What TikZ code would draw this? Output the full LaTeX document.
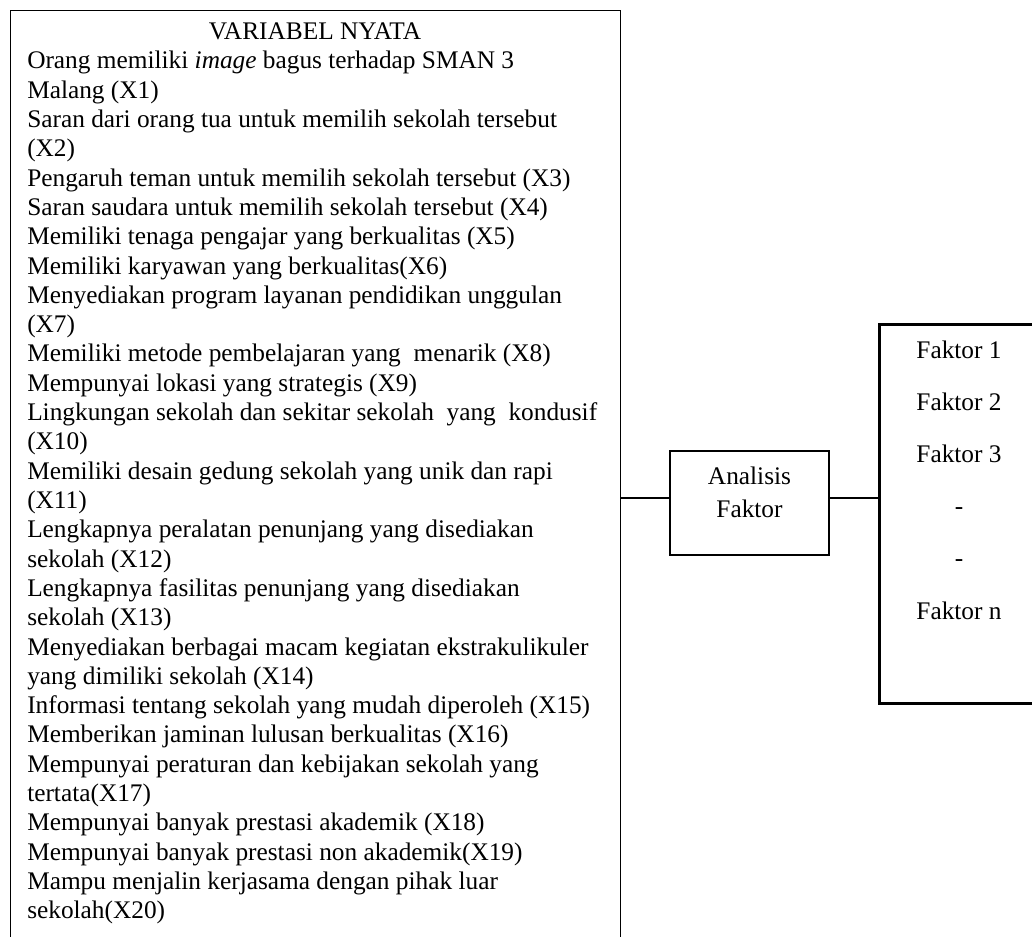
\documentclass[tikz,border=0pt]{standalone}
\usepackage{fontspec}
\setmainfont{Liberation Serif}
\tikzset{
  bigbox/.style={draw, line width=0.9pt, rectangle, inner sep=0pt},
  thickbox/.style={draw, line width=1.5pt, rectangle, inner sep=0pt},
  conn/.style={line width=1.5pt},
  listtext/.style={inner sep=0pt, font=\fontsize{19}{24.75}\selectfont},
}
\begin{document}
\begin{tikzpicture}[x=0.75pt,y=-0.75pt]
\useasboundingbox (0,0) rectangle (1032,937);
\clip (0,0) rectangle (1032,937);
% left box (bottom cut off)
\node[bigbox, anchor=north west, minimum width=610*0.75pt, minimum height=960*0.75pt] (vars) at (10,10) {};
\node[listtext, anchor=base] (title) at (315,40) {VARIABEL NYATA};
\foreach \t [count=\i] in {
{Orang memiliki \textit{image} bagus terhadap SMAN 3},
{Malang (X1)},
{Saran dari orang tua untuk memilih sekolah tersebut},
{(X2)},
{Pengaruh teman untuk memilih sekolah tersebut (X3)},
{Saran saudara untuk memilih sekolah tersebut (X4)},
{Memiliki tenaga pengajar yang berkualitas (X5)},
{Memiliki karyawan yang berkualitas(X6)},
{Menyediakan program layanan pendidikan unggulan},
{(X7)},
{Memiliki metode pembelajaran yang\ \ menarik (X8)},
{Mempunyai lokasi yang strategis (X9)},
{Lingkungan sekolah dan sekitar sekolah\ \ yang\ \ kondusif},
{(X10)},
{Memiliki desain gedung sekolah yang unik dan rapi},
{(X11)},
{Lengkapnya peralatan penunjang yang disediakan},
{sekolah (X12)},
{Lengkapnya fasilitas penunjang yang disediakan},
{sekolah (X13)},
{Menyediakan berbagai macam kegiatan ekstrakulikuler},
{yang dimiliki sekolah (X14)},
{Informasi tentang sekolah yang mudah diperoleh (X15)},
{Memberikan jaminan lulusan berkualitas (X16)},
{Mempunyai peraturan dan kebijakan sekolah yang},
{tertata(X17)},
{Mempunyai banyak prestasi akademik (X18)},
{Mempunyai banyak prestasi non akademik(X19)},
{Mampu menjalin kerjasama dengan pihak luar},
{sekolah(X20)}
}{
  \node[listtext, anchor=base west] (l\i) at (27,{69+29.3*(\i-1)}) {\t};
}
% analysis box
\node[thickbox, minimum width=159*0.75pt, minimum height=104*0.75pt] (af) at (749.5,503) {};
\node[listtext, align=center, anchor=base] (aftext) at (749.5,518) {Analisis\\Faktor};
% factor box (right edge cut off)
\node[thickbox, line width=2pt, anchor=north west, minimum width=200*0.75pt, minimum height=379*0.75pt] (fk) at (878,323) {};
\node[listtext, anchor=base] (f1) at (959,359) {Faktor 1};
\node[listtext, anchor=base] (f2) at (959,411) {Faktor 2};
\node[listtext, anchor=base] (f3) at (959,463) {Faktor 3};
\node[listtext, anchor=base] (d1) at (959,515) {-};
\node[listtext, anchor=base] (d2) at (959,567) {-};
\node[listtext, anchor=base] (fn) at (959,619) {Faktor n};
% connectors
\coordinate (ly) at (0,498);
\draw[conn] (vars.east |- ly) -- (af.west |- ly);
\draw[conn] (af.east |- ly) -- (fk.west |- ly);
\end{tikzpicture}
\end{document}
